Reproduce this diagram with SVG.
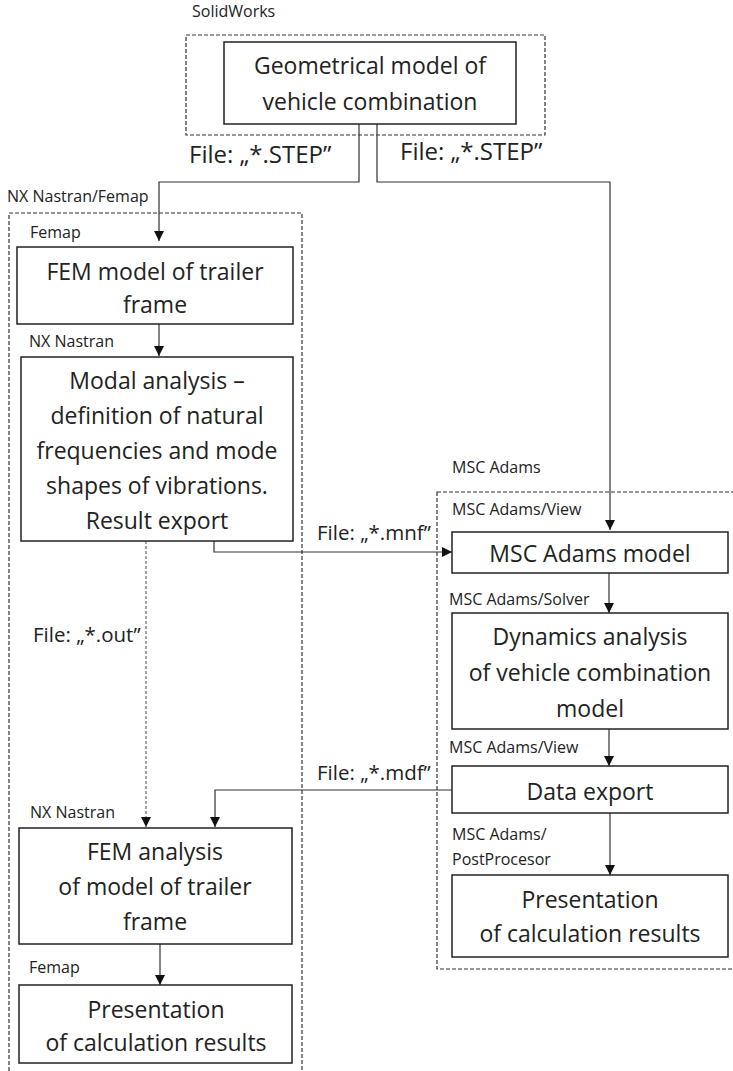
<svg xmlns="http://www.w3.org/2000/svg" width="733" height="1071" viewBox="0 0 733 1071">
<style>
text{font-family:"Open Sans","Liberation Sans",sans-serif;fill:#222}
.bt{font-size:23px;text-anchor:middle}
.lb{font-size:16px}
.fs{font-size:24px}
.fm{font-size:20.5px}
.box{fill:#fff;stroke:#222;stroke-width:1.5}
.grp{fill:none;stroke:#333;stroke-width:1.2;stroke-dasharray:4 2}
.con{fill:none;stroke:#333;stroke-width:1.2}
.dot{fill:none;stroke:#666;stroke-width:1.2;stroke-dasharray:3 2}
</style>
<defs>
<marker id="ah" viewBox="0 0 10 10" refX="10" refY="5" markerWidth="10" markerHeight="10" markerUnits="userSpaceOnUse" orient="auto">
<path d="M0,0 L10,5 L0,10 z" fill="#111"/>
</marker>
</defs>

<g id="groups">
<rect class="grp" x="186" y="35" width="359" height="100"/>
<text class="lb" x="192" y="17">SolidWorks</text>
<rect class="grp" x="9" y="213" width="293" height="880"/>
<text class="lb" x="7" y="202">NX Nastran/Femap</text>
<rect class="grp" x="437" y="492" width="320" height="477"/>
<text class="lb" x="452" y="473">MSC Adams</text>
</g>

<g id="connectors">
<path class="con" d="M359,124 V182 H159 V241" marker-end="url(#ah)"/>
<path class="con" d="M377,124 V182 H610 V530" marker-end="url(#ah)"/>
<path class="con" d="M159,324 V356" marker-end="url(#ah)"/>
<path class="con" d="M214,541 V552 H452" marker-end="url(#ah)"/>
<path class="dot" d="M146,541 V827" marker-end="url(#ah)"/>
<path class="con" d="M609,573 V613" marker-end="url(#ah)"/>
<path class="con" d="M609,729 V766" marker-end="url(#ah)"/>
<path class="con" d="M452,790 H215 V827" marker-end="url(#ah)"/>
<path class="con" d="M610,813 V875" marker-end="url(#ah)"/>
<path class="con" d="M160,944 V985" marker-end="url(#ah)"/>
<text class="fs" x="189" y="163">File: „*.STEP”</text>
<text class="fs" x="400" y="160">File: „*.STEP”</text>
<text class="fm" x="317" y="540">File: „*.mnf”</text>
<text class="fm" x="33" y="642">File: „*.out”</text>
<text class="fm" x="317" y="780">File: „*.mdf”</text>
</g>

<g id="geometrical">
<rect class="box" x="224" y="42" width="292" height="82"/>
<text class="bt" x="370" y="74">Geometrical model of</text>
<text class="bt" x="370" y="110">vehicle combination</text>
</g>

<g id="fem-model">
<text class="lb" x="30" y="238">Femap</text>
<rect class="box" x="17" y="247" width="276" height="77"/>
<text class="bt" x="155" y="280">FEM model of trailer</text>
<text class="bt" x="155" y="313">frame</text>
</g>

<g id="modal">
<text class="lb" x="29" y="347">NX Nastran</text>
<rect class="box" x="21" y="357" width="272" height="184"/>
<text class="bt" x="157" y="389">Modal analysis –</text>
<text class="bt" x="157" y="424">definition of natural</text>
<text class="bt" x="157" y="459">frequencies and mode</text>
<text class="bt" x="157" y="494">shapes of vibrations.</text>
<text class="bt" x="157" y="529">Result export</text>
</g>

<g id="fem-analysis">
<text class="lb" x="30" y="818">NX Nastran</text>
<rect class="box" x="19" y="828" width="273" height="116"/>
<text class="bt" x="155" y="860">FEM analysis</text>
<text class="bt" x="155" y="895">of model of trailer</text>
<text class="bt" x="155" y="930">frame</text>
</g>

<g id="presentation-left">
<text class="lb" x="29" y="973">Femap</text>
<rect class="box" x="19" y="985" width="273" height="78"/>
<text class="bt" x="156" y="1018">Presentation</text>
<text class="bt" x="156" y="1051">of calculation results</text>
</g>

<g id="adams-model">
<text class="lb" x="452" y="515">MSC Adams/View</text>
<rect class="box" x="452" y="532" width="276" height="41"/>
<text class="bt" x="590" y="562">MSC Adams model</text>
</g>

<g id="dynamics">
<text class="lb" x="449" y="605">MSC Adams/Solver</text>
<rect class="box" x="452" y="613" width="276" height="116"/>
<text class="bt" x="590" y="645">Dynamics analysis</text>
<text class="bt" x="590" y="681">of vehicle combination</text>
<text class="bt" x="590" y="717">model</text>
</g>

<g id="data-export">
<text class="lb" x="449" y="753">MSC Adams/View</text>
<rect class="box" x="452" y="766" width="276" height="47"/>
<text class="bt" x="590" y="800">Data export</text>
</g>

<g id="presentation-right">
<text class="lb" x="452" y="840">MSC Adams/</text>
<text class="lb" x="452" y="865">PostProcesor</text>
<rect class="box" x="452" y="875" width="276" height="82"/>
<text class="bt" x="590" y="908">Presentation</text>
<text class="bt" x="590" y="942">of calculation results</text>
</g>
</svg>
